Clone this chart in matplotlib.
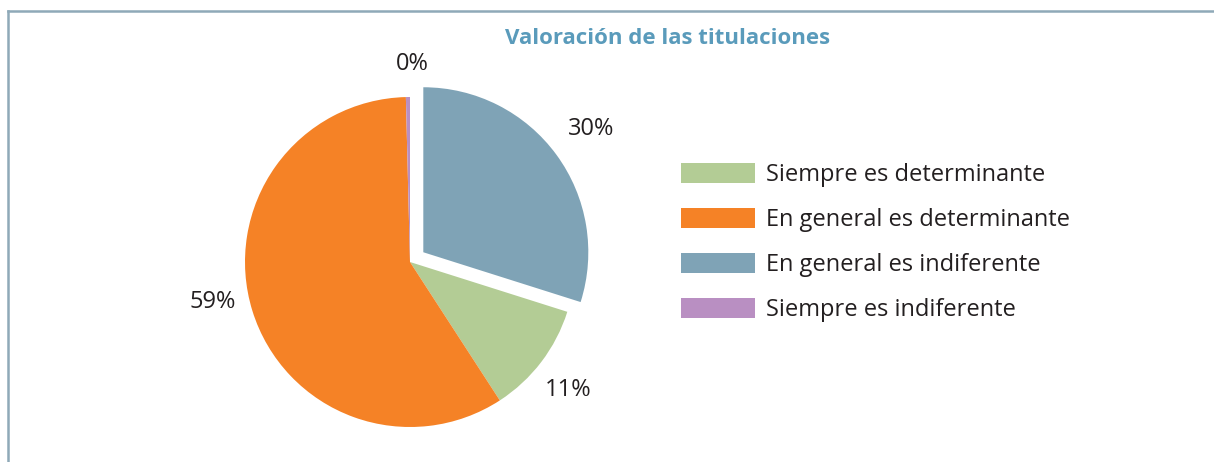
import matplotlib
matplotlib.use("Agg")
import matplotlib.pyplot as plt
from matplotlib.patches import Patch
from matplotlib.lines import Line2D

plt.rcParams['font.family'] = ['Open Sans', 'DejaVu Sans']

title = "Valoración de las titulaciones"
categories = ["Siempre es determinante", "En general es determinante",
              "En general es indiferente", "Siempre es indiferente"]
values = [11, 59, 30, 0.4]
colors = ["#b3cc95", "#f58226", "#7fa3b6", "#b98fc2"]

# drawing order around the pie (clockwise from the top)
pie_order = [2, 0, 1, 3]

W, H = 1214, 462
R = 165
fig = plt.figure(figsize=(W / 100, H / 100), dpi=100)
ax = fig.add_axes([0, 0, 1, 1])

# explode is in data units here, so scale by the radius
wedges, texts, autotexts = ax.pie(
    [values[i] for i in pie_order],
    colors=[colors[i] for i in pie_order],
    explode=[0.1 * R, 0, 0, 0],
    startangle=90, counterclock=False,
    center=(410, H - 262), radius=R,
    autopct='%.0f%%', pctdistance=1.22,
    textprops={'fontsize': 17, 'color': '#231f20'},
    wedgeprops={'linewidth': 0},
    frame=True)

# small nudges like the original's label placement
nudges = [(5, 4), (-2, -6), (-5, 20), (5, -3)]
for t, (dx, dy) in zip(autotexts, nudges):
    x, y = t.get_position()
    t.set_position((x + dx, y + dy))

ax.set_xlim(0, W)
ax.set_ylim(0, H)
ax.set_aspect('equal')
ax.axis('off')

fig.text(668 / W, 1 - 38 / H, title, ha='center', va='center',
         fontsize=16, fontweight='bold', color='#5a9bbb')

handles = [Patch(facecolor=c, edgecolor='none') for c in colors]
fig.legend(handles, categories, loc='upper left',
           bbox_to_anchor=(664 / W, 1 - 146 / H), frameon=False,
           fontsize=17, handlelength=3.15, handleheight=0.95,
           handletextpad=0.45, labelspacing=0.88, borderpad=0.2,
           labelcolor='#231f20')

# frame lines at the top and left
fig.add_artist(Line2D([8 / W, 1], [1 - 11 / H, 1 - 11 / H], color='#8fa9b8', lw=1.8))
fig.add_artist(Line2D([8 / W, 8 / W], [0, 1 - 11 / H], color='#8fa9b8', lw=1.8))

fig.savefig("out.png", dpi=100)
